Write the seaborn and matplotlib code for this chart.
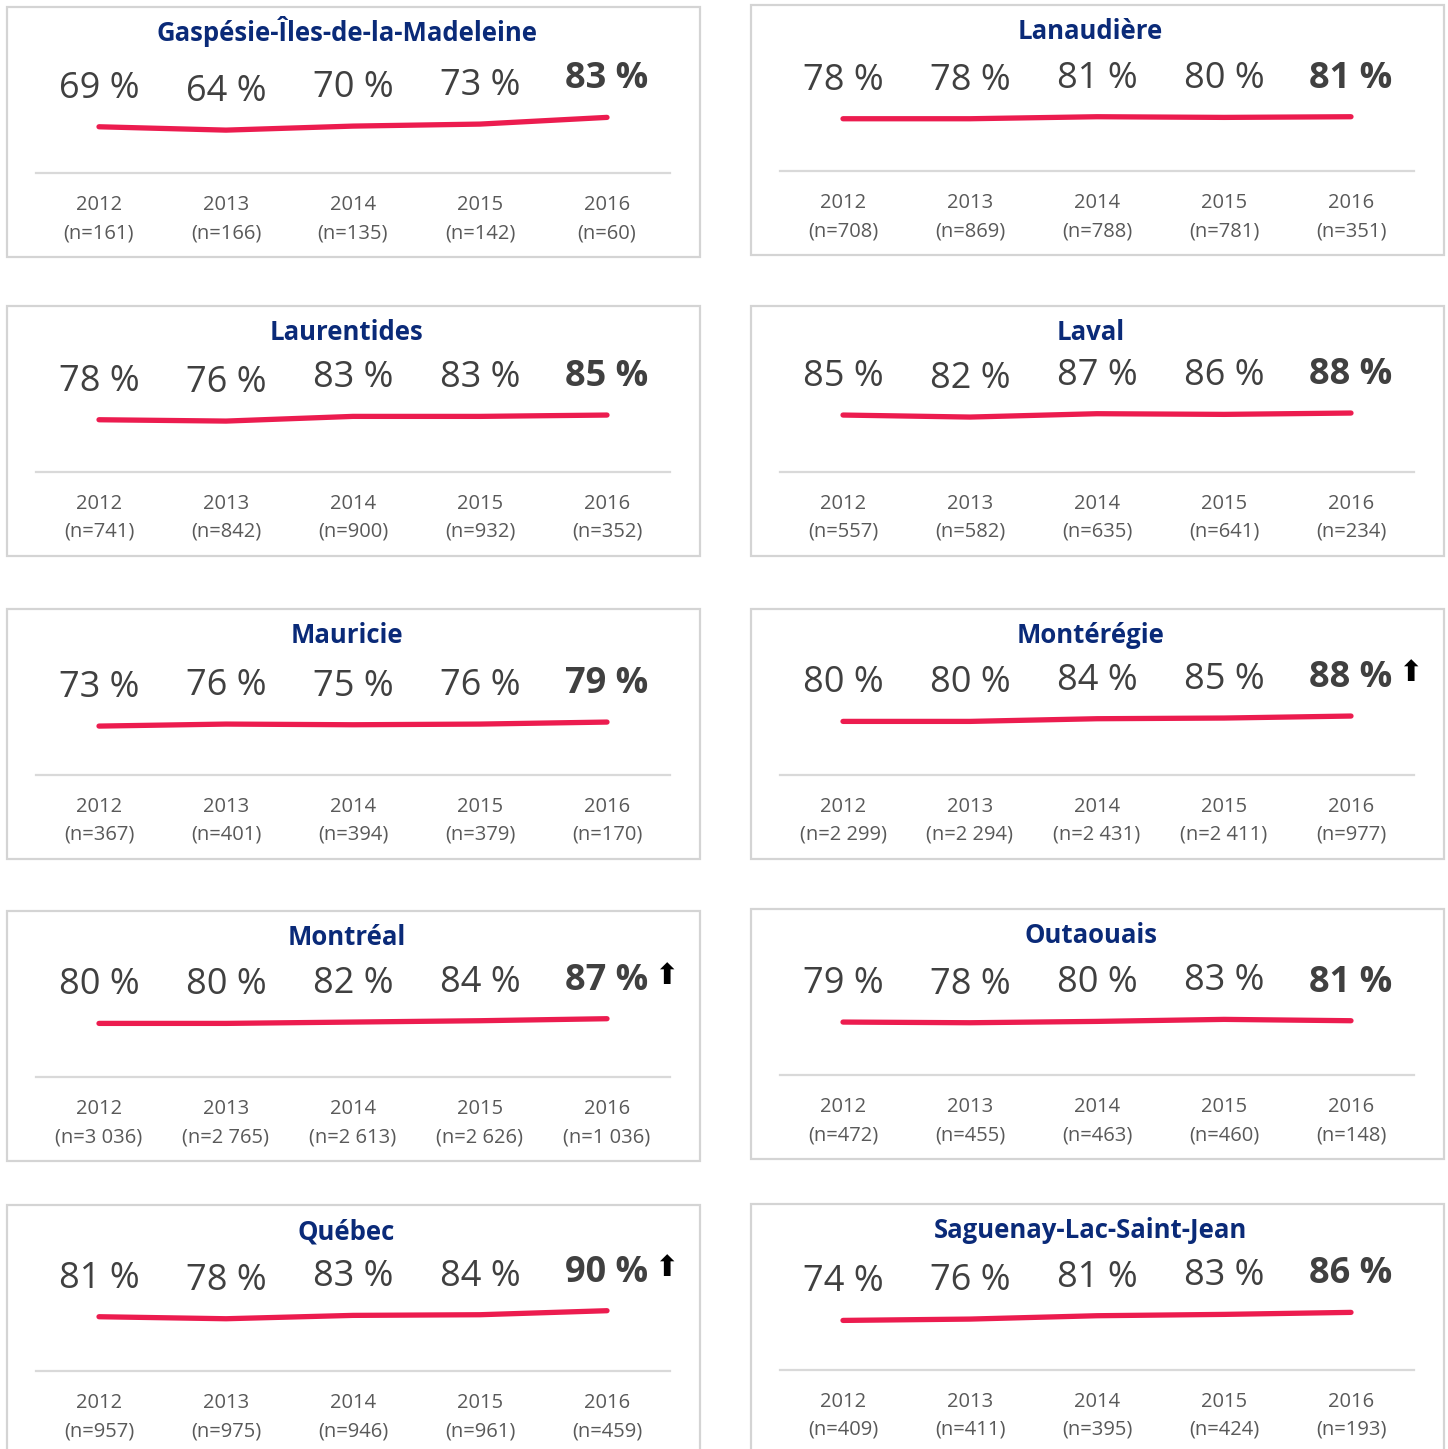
import numpy as np
import pandas as pd
import matplotlib
matplotlib.use("Agg")
import matplotlib.pyplot as plt
from matplotlib.patches import Rectangle
import seaborn as sns

sns.set_theme(style="white")
plt.rcParams['font.family'] = ['Open Sans', 'DejaVu Sans']

# ---- data ----
years = [2012, 2013, 2014, 2015, 2016]
regions = ['Gaspésie-Îles-de-la-Madeleine', 'Lanaudière', 'Laurentides', 'Laval',
           'Mauricie', 'Montérégie', 'Montréal', 'Outaouais', 'Québec',
           'Saguenay-Lac-Saint-Jean']
pct = [
    [69, 64, 70, 73, 83],
    [78, 78, 81, 80, 81],
    [78, 76, 83, 83, 85],
    [85, 82, 87, 86, 88],
    [73, 76, 75, 76, 79],
    [80, 80, 84, 85, 88],
    [80, 80, 82, 84, 87],
    [79, 78, 80, 83, 81],
    [81, 78, 83, 84, 90],
    [74, 76, 81, 83, 86],
]
n_obs = [
    ['161', '166', '135', '142', '60'],
    ['708', '869', '788', '781', '351'],
    ['741', '842', '900', '932', '352'],
    ['557', '582', '635', '641', '234'],
    ['367', '401', '394', '379', '170'],
    ['2 299', '2 294', '2 431', '2 411', '977'],
    ['3 036', '2 765', '2 613', '2 626', '1 036'],
    ['472', '455', '463', '460', '148'],
    ['957', '975', '946', '961', '459'],
    ['409', '411', '395', '424', '193'],
]
signif_up = [False, False, False, False, False, True, True, False, True, False]

# ---- layout (pixels) ----
W, H = 1448, 1449
fig = plt.figure(figsize=(W / 100, H / 100), dpi=100)
fig.patch.set_facecolor('white')

box_x = [(7, 700), (751, 1444)]
axes_x = [(36, 670), (780, 1414)]
baselines = [[173, 472, 775, 1077, 1371], [171, 472, 775, 1075, 1370]]
ax_h = 67  # px for 0..100 %

LINE_COL = '#EC1C4F'
TITLE_COL = '#0A2A78'
TXT_COL = '#404040'
SUB_COL = '#595959'

for i, region in enumerate(regions):
    row, col = divmod(i, 2)
    base = baselines[col][row]
    bx0, bx1 = box_x[col]
    ax0, ax1 = axes_x[col]

    # panel frame
    top, bottom = base - 166, min(base + 84, H + 5)
    fig.patches.append(Rectangle((bx0 / W, 1 - bottom / H), (bx1 - bx0) / W, (bottom - top) / H,
                                 transform=fig.transFigure, fill=False,
                                 edgecolor='#D4D4D4', linewidth=1.6))

    ax = fig.add_axes([ax0 / W, 1 - base / H, (ax1 - ax0) / W, ax_h / H])
    df = pd.DataFrame({'year': years, 'pct': pct[i]})
    sns.lineplot(data=df, x='year', y='pct', ax=ax, color=LINE_COL, linewidth=3.8,
                 solid_capstyle='round')
    pad = 63 / 127
    ax.set_xlim(years[0] - pad, years[-1] + pad)
    ax.set_ylim(0, 100)
    ax.set_xticks([])
    ax.set_yticks([])
    ax.set_xlabel('')
    ax.set_ylabel('')
    for s in ['top', 'left', 'right']:
        ax.spines[s].set_visible(False)
    ax.spines['bottom'].set_color('#D9D9D9')
    ax.spines['bottom'].set_linewidth(1.6)
    ax.patch.set_alpha(0)

    for j, (yr, v) in enumerate(zip(years, pct[i])):
        last = j == len(years) - 1
        ax.annotate(f'{v} %', (yr, v), xytext=(0, 38), textcoords='offset pixels',
                    ha='center', va='center', fontsize=26, color=TXT_COL,
                    fontweight='bold' if last else 'normal', annotation_clip=False)
        ax.annotate(str(yr), (yr, 0), xytext=(0, -32), textcoords='offset pixels',
                    ha='center', va='center', fontsize=14.5, color=SUB_COL, annotation_clip=False)
        ax.annotate(f'(n={n_obs[i][j]})', (yr, 0), xytext=(0, -60), textcoords='offset pixels',
                    ha='center', va='center', fontsize=14.5, color=SUB_COL, annotation_clip=False)
    if signif_up[i]:
        ax.annotate('⬆', (years[-1], pct[i][-1]), xytext=(59, 43), textcoords='offset pixels',
                    ha='center', va='center', fontsize=21, color='black',
                    family=['DejaVu Sans'], annotation_clip=False)

    fig.text(((bx0 + bx1) / 2 - 7) / W, 1 - (base - 132) / H, region, ha='center', va='baseline',
             fontsize=18.5, fontweight='bold', color=TITLE_COL)

fig.savefig('out.png', dpi=100, facecolor='white')
